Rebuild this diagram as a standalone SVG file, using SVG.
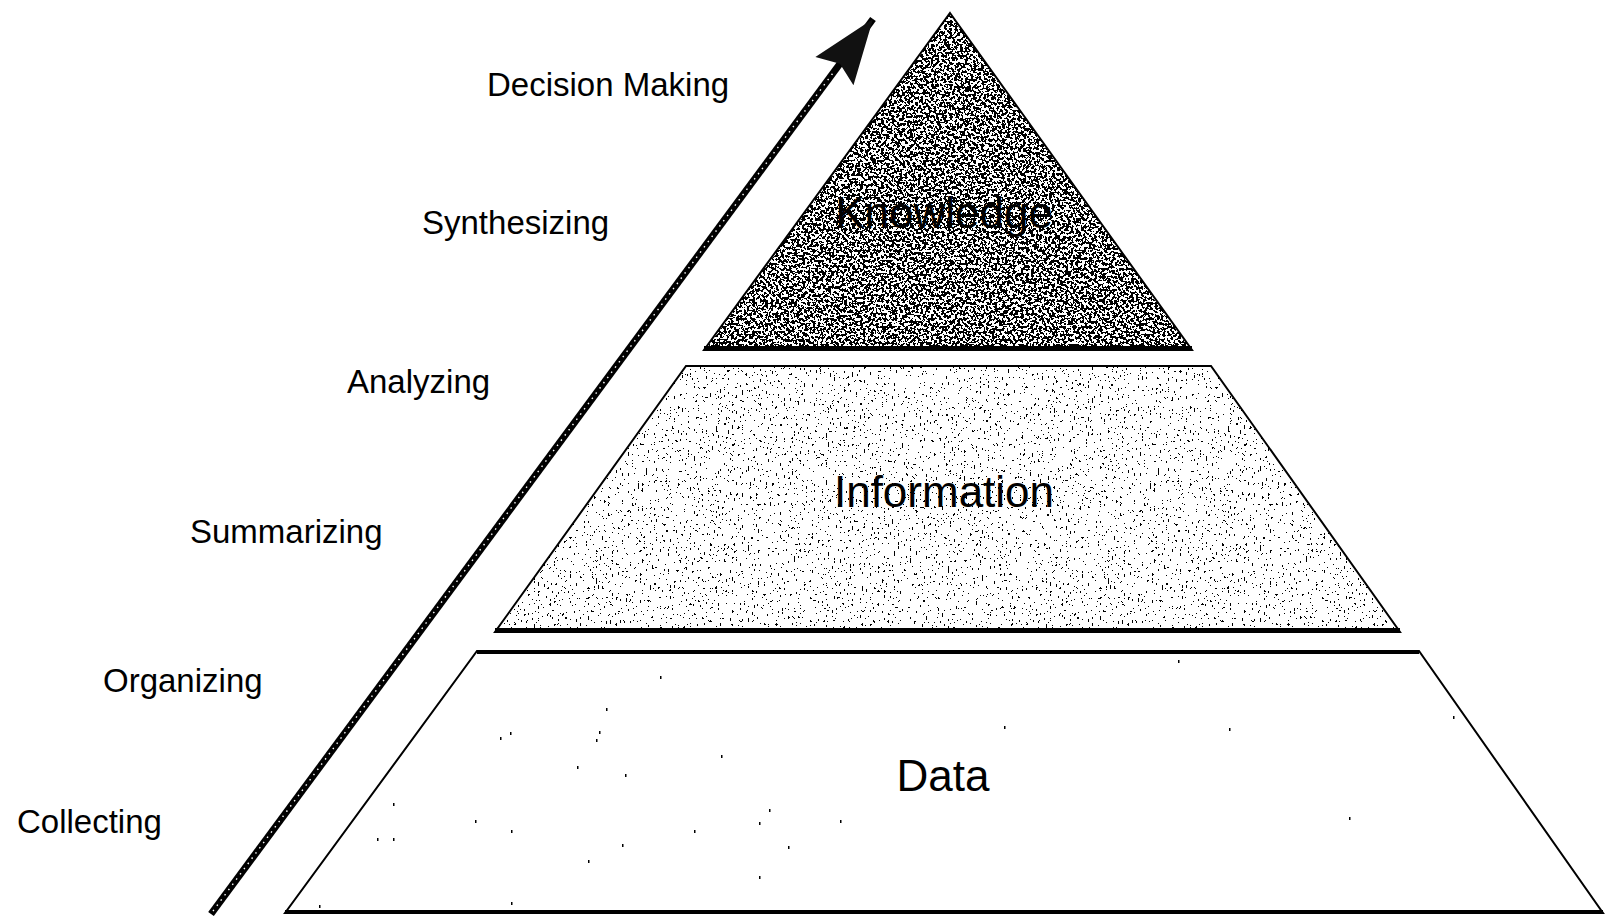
<svg xmlns="http://www.w3.org/2000/svg" width="1605" height="920" viewBox="0 0 1605 920">
<style>
  .lbl { font-family: "Liberation Sans", Arial, sans-serif; font-size: 33px; fill: #000; }
  .ttl { font-family: "Liberation Sans", Arial, sans-serif; font-size: 44px; fill: #000; text-anchor: middle; }
  .edge { fill: none; stroke: #000; stroke-width: 2; stroke-linejoin: miter; }
  .base { stroke: #000; stroke-width: 4; }
  .dot { fill: #000; }
</style>
<defs>
  <filter id="fDark" x="0" y="0" width="1" height="1" color-interpolation-filters="sRGB">
    <feTurbulence type="fractalNoise" baseFrequency="0.38" numOctaves="2" seed="7" result="n"/>
    <feColorMatrix in="n" type="matrix" values="0 0 0 0 0  0 0 0 0 0  0 0 0 0 0  1 0 0 0 0" result="a"/>
    <feComponentTransfer in="a" result="t"><feFuncA type="discrete" tableValues="0 0 0 0 0 0 0 0 0 0 1 1 1 1 1 1 1 1 1 1"/></feComponentTransfer>
    <feComposite in="t" in2="SourceGraphic" operator="in"/>
  </filter>
  <filter id="fMid" x="0" y="0" width="1" height="1" color-interpolation-filters="sRGB">
    <feTurbulence type="fractalNoise" baseFrequency="0.5 0.3" numOctaves="2" seed="3" result="n"/>
    <feColorMatrix in="n" type="matrix" values="0 0 0 0 0  0 0 0 0 0  0 0 0 0 0  1 0 0 0 0" result="a"/>
    <feComponentTransfer in="a" result="t"><feFuncA type="discrete" tableValues="0 0 0 0 0 0 0 0 0 0 0 0 0 0 1 1 1 1 1 1"/></feComponentTransfer>
    <feComposite in="t" in2="SourceGraphic" operator="in"/>
  </filter>
  <marker id="head" markerUnits="userSpaceOnUse" markerWidth="70" markerHeight="54" viewBox="-66 -26 68 52" refX="0" refY="0" orient="auto">
    <path d="M0,0 L-63,-23 L-54,0 L-63,23 Z" fill="#111"/>
  </marker>
</defs>
<rect width="1605" height="920" fill="#fff"/>

<g id="connectors">
  <line x1="211" y1="914" x2="873" y2="19" stroke="#000" stroke-width="7" marker-end="url(#head)"/>
  <line x1="213" y1="911" x2="833" y2="73" stroke="#fff" stroke-width="1.4" stroke-dasharray="1.5 5"/>
</g>

<g id="knowledge">
  <polygon points="950,13 1192,350 704,350" fill="#000" filter="url(#fDark)"/>
  <polygon class="edge" points="950,13 1192,350 704,350"/>
  <line class="base" x1="704" y1="348" x2="1192" y2="348"/>
  <text class="ttl" x="944" y="228">Knowledge</text>
</g>

<g id="information">
  <polygon points="686,366 1211,366 1400,632 495,632" fill="#000" filter="url(#fMid)"/>
  <polygon class="edge" points="686,366 1211,366 1400,632 495,632"/>
  <line class="base" x1="495" y1="630" x2="1400" y2="630"/>
  <text class="ttl" x="944" y="507">Information</text>
</g>

<g id="data">
  <polygon class="edge" points="477,651 1419,651 1603,913 285,913" fill="#fff"/>
  <line class="base" x1="477" y1="652" x2="1419" y2="652" stroke-width="3"/>
  <line class="base" x1="285" y1="912" x2="1603" y2="912" stroke-width="3"/>
  <g>
    <rect class="dot" x="660" y="676" width="1.5" height="3"/>
    <rect class="dot" x="606" y="708" width="1.5" height="3"/>
    <rect class="dot" x="510" y="732" width="1.5" height="3"/>
    <rect class="dot" x="500" y="737" width="1.5" height="3"/>
    <rect class="dot" x="599" y="731" width="1.5" height="3"/>
    <rect class="dot" x="596" y="739" width="1.5" height="3"/>
    <rect class="dot" x="721" y="755" width="1.5" height="3"/>
    <rect class="dot" x="577" y="766" width="1.5" height="3"/>
    <rect class="dot" x="625" y="774" width="1.5" height="3"/>
    <rect class="dot" x="1004" y="726" width="1.5" height="3"/>
    <rect class="dot" x="1229" y="728" width="1.5" height="3"/>
    <rect class="dot" x="1178" y="660" width="1.5" height="3"/>
    <rect class="dot" x="1453" y="716" width="1.5" height="3"/>
    <rect class="dot" x="393" y="803" width="1.5" height="3"/>
    <rect class="dot" x="769" y="809" width="1.5" height="3"/>
    <rect class="dot" x="759" y="822" width="1.5" height="3"/>
    <rect class="dot" x="840" y="820" width="1.5" height="3"/>
    <rect class="dot" x="475" y="820" width="1.5" height="3"/>
    <rect class="dot" x="511" y="830" width="1.5" height="3"/>
    <rect class="dot" x="694" y="830" width="1.5" height="3"/>
    <rect class="dot" x="377" y="838" width="1.5" height="3"/>
    <rect class="dot" x="393" y="838" width="1.5" height="3"/>
    <rect class="dot" x="622" y="844" width="1.5" height="3"/>
    <rect class="dot" x="788" y="846" width="1.5" height="3"/>
    <rect class="dot" x="588" y="860" width="1.5" height="3"/>
    <rect class="dot" x="1349" y="817" width="1.5" height="3"/>
    <rect class="dot" x="759" y="876" width="1.5" height="3"/>
    <rect class="dot" x="511" y="902" width="1.5" height="3"/>
    <rect class="dot" x="319" y="905" width="1.5" height="3"/>
  </g>
  <text class="ttl" x="943" y="791">Data</text>
</g>

<g id="labels">
  <text class="lbl" x="487" y="96">Decision Making</text>
  <text class="lbl" x="422" y="234">Synthesizing</text>
  <text class="lbl" x="347" y="393">Analyzing</text>
  <text class="lbl" x="190" y="543">Summarizing</text>
  <text class="lbl" x="103" y="692">Organizing</text>
  <text class="lbl" x="17" y="833">Collecting</text>
</g>
</svg>
